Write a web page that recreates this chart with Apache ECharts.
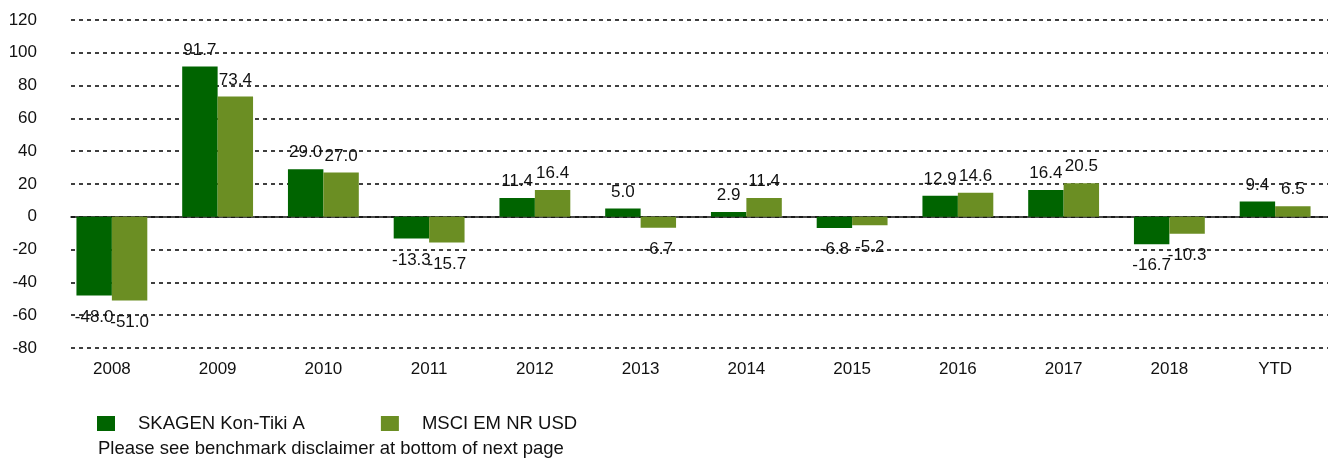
<!doctype html>
<html lang="en">
<head>
  <meta charset="UTF-8">
  <title>Annual returns</title>
  <script src="https://cdn.jsdelivr.net/npm/echarts@6/dist/echarts.min.js"></script>
  <style>
    html, body { margin: 0; padding: 0; background: #fff; }
    #chart { width: 1328px; height: 466px; }
  </style>
</head>
<body>
<div id="chart"></div>
<script>
  // chart data
  var years = ['2008', '2009', '2010', '2011', '2012', '2013', '2014', '2015', '2016', '2017', '2018', 'YTD'];
  var fundName = 'SKAGEN Kon-Tiki A';
  var benchName = 'MSCI EM NR USD';
  var fundValues = [-48.0, 91.7, 29.0, -13.3, 11.4, 5.0, 2.9, -6.8, 12.9, 16.4, -16.7, 9.4];
  var benchValues = [-51.0, 73.4, 27.0, -15.7, 16.4, -6.7, 11.4, -5.2, 14.6, 20.5, -10.3, 6.5];
  var disclaimer = 'Please see benchmark disclaimer at bottom of next page';

  var font = 'Liberation Sans, Arial, sans-serif';

  // positive labels above bar, negative ones below
  function withLabels(values) {
    return values.map(function (v) {
      return {
        value: v,
        label: v < 0 ? { position: 'bottom', distance: 13 } : { position: 'top', distance: 8 }
      };
    });
  }

  var barLabel = {
    show: true,
    color: '#111',
    fontSize: 17,
    fontFamily: font,
    formatter: function (p) { return p.value.toFixed(1); }
  };

  var chart = echarts.init(document.getElementById('chart'));
  var option = {
    animation: false,
    title: {
      text: disclaimer,
      left: 93,
      top: 434,
      textStyle: { fontSize: 18.5, fontWeight: 'normal', color: '#111', fontFamily: font }
    },
    legend: {
      left: 92,
      top: 409,
      itemWidth: 18,
      itemHeight: 15,
      itemGap: 76,
      icon: 'rect',
      textStyle: { fontSize: 18.5, color: '#111', fontFamily: font, padding: [0, 0, 0, 18] },
      data: [fundName, benchName]
    },
    grid: [
      { left: 59, right: -12, top: 20, bottom: 118 },
      { left: 71, right: 0, top: 20, bottom: 118 }
    ],
    xAxis: [
      {
        type: 'category',
        gridIndex: 0,
        data: years,
        axisLine: { show: false },
        axisTick: { show: false },
        axisLabel: { color: '#111', fontSize: 17, fontFamily: font, margin: 13 }
      },
      {
        type: 'category',
        gridIndex: 1,
        data: years,
        axisLine: { show: true, onZero: true, lineStyle: { color: '#111', width: 1.5 } },
        axisTick: { show: false },
        axisLabel: { show: false }
      }
    ],
    yAxis: [
      {
        type: 'value',
        gridIndex: 0,
        min: -80,
        max: 120,
        interval: 20,
        show: false
      },
      {
        type: 'value',
        gridIndex: 1,
        min: -80,
        max: 120,
        interval: 20,
        axisLine: { show: false },
        axisTick: { show: false },
        axisLabel: { color: '#111', fontSize: 17, fontFamily: font, margin: 34 },
        splitLine: { lineStyle: { color: '#111', width: 1.6, type: [4, 4] } }
      }
    ],
    series: [
      {
        name: fundName,
        type: 'bar',
        xAxisIndex: 0,
        yAxisIndex: 0,
        barGap: '0%',
        barCategoryGap: '33%',
        itemStyle: { color: '#006400' },
        label: barLabel,
        data: withLabels(fundValues)
      },
      {
        name: benchName,
        type: 'bar',
        xAxisIndex: 0,
        yAxisIndex: 0,
        barGap: '0%',
        barCategoryGap: '33%',
        itemStyle: { color: '#6B8E23' },
        label: barLabel,
        data: withLabels(benchValues)
      }
    ]
  };
  chart.setOption(option);
</script>
</body>
</html>
